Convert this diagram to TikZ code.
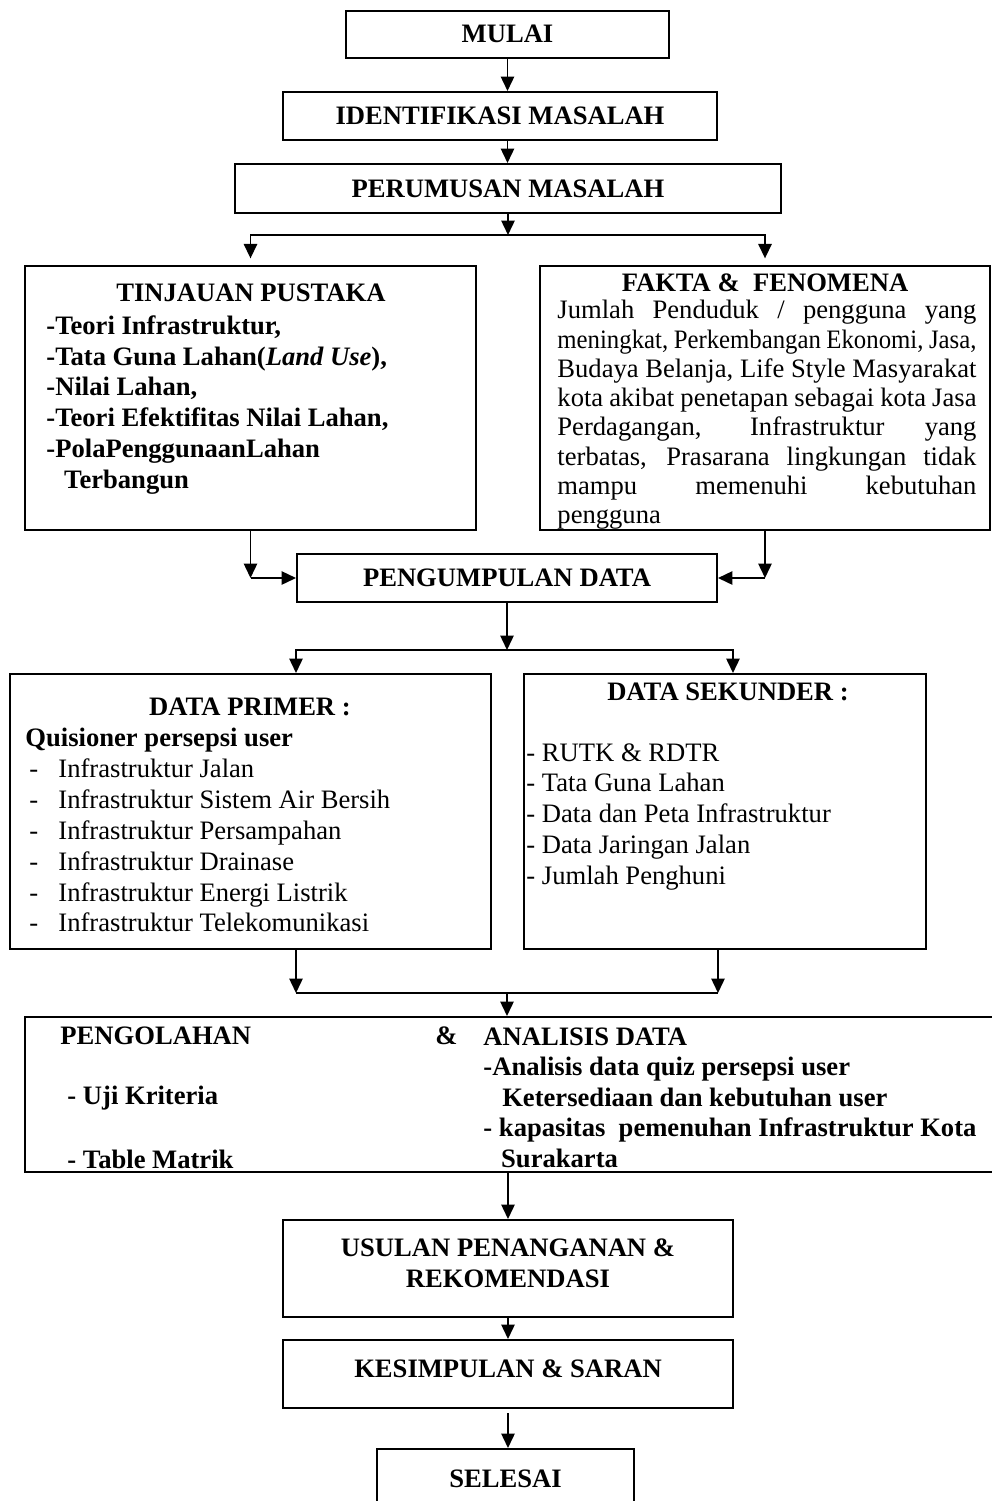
\documentclass[tikz,border=0pt]{standalone}
\usepackage{fontspec}
\usepackage{graphicx}
\setmainfont{Liberation Serif}
\usetikzlibrary{arrows.meta}

\newcommand{\baris}[1]{\makebox[189pt][s]{#1}}
\newcommand{\butir}[1]{\hspace*{1.8pt}\makebox[13.1pt][l]{-}#1}

\begin{document}
\begin{tikzpicture}[x=0.451pt, y=-0.451pt,
  kotak/.style={draw, line width=0.9pt, inner sep=0pt, align=center, font=\bfseries\fontsize{12}{14}\selectfont},
  tebal/.style={inner sep=0pt, font=\bfseries\fontsize{12}{13.9}\selectfont},
  biasa/.style={inner sep=0pt, font=\fontsize{12}{13.9}\selectfont},
  panah/.style={line width=0.8pt, -{Triangle[length=6.5pt, width=6pt]}},
  garis/.style={line width=0.8pt}]

\useasboundingbox (0,0) rectangle (992,1501);

% kotak
\node[kotak, minimum width=323*0.451pt, minimum height=47*0.451pt] (mulai) at (507.5,34) {MULAI};
\node[kotak, minimum width=434*0.451pt, minimum height=48*0.451pt] (ident) at (500,116) {IDENTIFIKASI MASALAH};
\node[kotak, minimum width=546*0.451pt, minimum height=49*0.451pt] (rumus) at (508,188.5) {PERUMUSAN MASALAH};
\node[kotak, minimum width=451*0.451pt, minimum height=264*0.451pt] (tinjau) at (250.5,398) {};
\node[kotak, minimum width=450*0.451pt, minimum height=264*0.451pt] (fakta) at (765,398) {};
\node[kotak, minimum width=420*0.451pt, minimum height=48*0.451pt] (kumpul) at (507,578) {PENGUMPULAN DATA};
\node[kotak, minimum width=481*0.451pt, minimum height=275*0.451pt] (primer) at (250.5,811.5) {};
\node[kotak, minimum width=402*0.451pt, minimum height=275*0.451pt] (sekunder) at (725,811.5) {};
\node[kotak, minimum width=973*0.451pt, minimum height=155*0.451pt] (olah) at (511.5,1094.5) {};
\node[kotak, minimum width=450*0.451pt, minimum height=97*0.451pt, text depth=4.6pt] (usulan) at (508,1268.5) {USULAN PENANGANAN \&\\ REKOMENDASI};
\node[kotak, minimum width=450*0.451pt, minimum height=68*0.451pt, text depth=5pt] (simpul) at (508,1374) {KESIMPULAN \& SARAN};
\node[kotak, minimum width=257*0.451pt, minimum height=62*0.451pt, text depth=1pt] (selesai) at (505.5,1480) {SELESAI};

% isi tinjauan pustaka
\node[tebal] (tjudul) at (251,293) {TINJAUAN PUSTAKA};
\node[tebal, align=left, anchor=north west] (tisi) at (46,315) {-Teori Infrastruktur,\\
  -Tata Guna Lahan(\textit{Land Use}),\\
  -Nilai Lahan,\\
  -Teori Efektifitas Nilai Lahan,\\
  -PolaPenggunaanLahan\\
  \hspace*{8pt}Terbangun};

% isi fakta
\node[tebal] (fjudul) at (765,283) {FAKTA \& \ FENOMENA};
\node[biasa, align=left, anchor=north west, font=\fontsize{12}{13.2}\selectfont] (fisi) at (557,300) {\baris{Jumlah Penduduk / pengguna yang}\\
  \scalebox{0.931}[1]{\makebox[203pt][s]{meningkat, Perkembangan Ekonomi, Jasa,}}\\
  \baris{Budaya Belanja, Life Style Masyarakat}\\
  \baris{kota akibat penetapan sebagai kota Jasa}\\
  \baris{Perdagangan, Infrastruktur yang}\\
  \baris{terbatas, Prasarana lingkungan tidak}\\
  \baris{mampu memenuhi kebutuhan}\\
  pengguna};

% isi data primer
\node[tebal] (pjudul) at (250,707) {DATA PRIMER :};
\node[biasa, align=left, anchor=north west] (pisi) at (25,728) {{\bfseries Quisioner persepsi user}\\
  \butir{Infrastruktur Jalan}\\
  \butir{Infrastruktur Sistem Air Bersih}\\
  \butir{Infrastruktur Persampahan}\\
  \butir{Infrastruktur Drainase}\\
  \butir{Infrastruktur Energi Listrik}\\
  \butir{Infrastruktur Telekomunikasi}};

% isi data sekunder
\node[tebal] (sjudul) at (728,692) {DATA SEKUNDER :};
\node[biasa, align=left, anchor=north west] (sisi) at (526,743) {- RUTK \& RDTR\\
  - Tata Guna Lahan\\
  - Data dan Peta Infrastruktur\\
  - Data Jaringan Jalan\\
  - Jumlah Penghuni};

% isi pengolahan
\node[tebal, anchor=west] (ojudul) at (60,1036) {PENGOLAHAN};
\node[tebal, anchor=west] (odan) at (435,1036) {\&};
\node[tebal, anchor=west] (ouji) at (67,1098) {- Uji Kriteria};
\node[tebal, anchor=west] (otabel) at (67,1159) {- Table Matrik};
\node[tebal, align=left, anchor=north west, font=\bfseries\fontsize{12}{13.75}\selectfont] (oisi) at (483,1027) {ANALISIS DATA\\
  -Analisis data quiz persepsi user\\
  \hspace*{8.5pt}Ketersediaan dan kebutuhan user\\
  - kapasitas\ \ pemenuhan Infrastruktur Kota\\
  \hspace*{8pt}Surakarta};

% titik cabang
\coordinate (c1) at (508,235);
\coordinate (c3) at (507,650);
\coordinate (c4) at (507,993);

% panah
\draw[panah] (mulai.south) -- (mulai.south |- ident.north);
\draw[panah] (ident.south -| mulai) -- (rumus.north -| mulai);
\draw[panah] (rumus.south) -- (c1);
\draw[panah] (c1) -| ([yshift=3pt]tinjau.north);
\draw[panah] (c1) -| ([yshift=3pt]fakta.north);
\draw[panah] (tinjau.south) -- (tinjau.south |- kumpul.west);
\draw[panah] (tinjau.south |- kumpul.west) -- (kumpul.west);
\draw[panah] (fakta.south) -- (fakta.south |- kumpul.east);
\draw[panah] (fakta.south |- kumpul.east) -- (kumpul.east);
\draw[panah] (kumpul.south) -- (c3);
\draw[panah] (c3) -| (kumpul.west |- primer.north);
\draw[panah] (c3) -| ([xshift=3.6pt]sekunder.north);
\draw[panah] (primer.south -| kumpul.west) -- (c4 -| kumpul.west);
\draw[panah] (sekunder.south -| kumpul.east) -- (c4 -| kumpul.east);
\draw[garis] (c4 -| kumpul.west) -- (c4 -| kumpul.east);
\draw[panah] (c4) -- (c4 |- olah.north);
\draw[panah] (usulan.north |- olah.south) -- (usulan.north);
\draw[panah] (usulan.south) -- (simpul.north);
\draw[panah] ([yshift=-2pt]simpul.south) -- (selesai.north -| simpul);

\end{tikzpicture}
\end{document}
